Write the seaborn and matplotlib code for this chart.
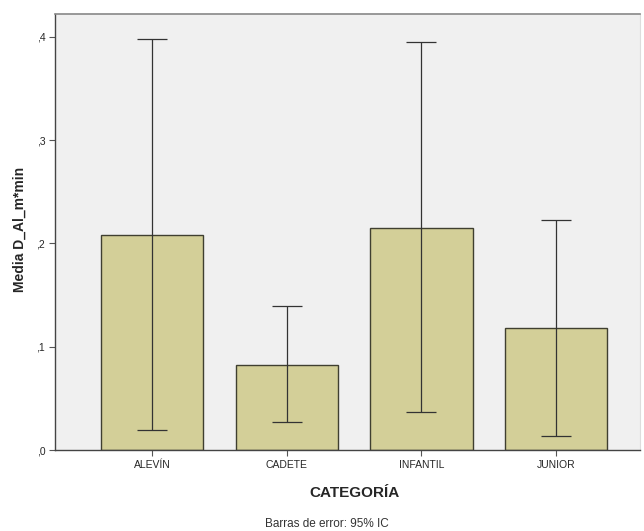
import seaborn as sns
import numpy as np
import matplotlib.pyplot as plt

categorias = ['ALEVÍN', 'CADETE', 'INFANTIL', 'JUNIOR']
medias = [0.208, 0.082, 0.215, 0.118]
ic_bajo = [0.019, 0.027, 0.037, 0.014]
ic_alto = [0.398, 0.139, 0.395, 0.223]
yticks = [0.0, 0.1, 0.2, 0.3, 0.4]
ytick_labels = [',0', ',1', ',2', ',3', ',4']

sns.set_style('white')
plt.rcParams['font.family'] = ['Liberation Sans', 'DejaVu Sans']

fig = plt.figure(figsize=(6.44, 5.31), dpi=100)
ax = fig.add_axes([0.0854, 0.1525, 0.908, 0.821])
ax.set_facecolor('#f0f0f0')

sns.barplot(x=categorias, y=medias, color='#d3cf98', saturation=1,
            edgecolor='#3f3f30', linewidth=1.0, width=0.76, ax=ax)

pos = np.arange(len(categorias))
med = np.array(medias)
err = [med - np.array(ic_bajo), np.array(ic_alto) - med]
ax.errorbar(pos, med, yerr=err, fmt='none', ecolor='#333333',
            elinewidth=0.9, capsize=11, capthick=0.9)

ax.set_xlim(-0.72, 3.62)
ax.set_ylim(0, 0.422)
ax.set_yticks(yticks)
ax.set_yticklabels(ytick_labels, fontsize=7.5)
ax.tick_params(axis='x', labelsize=7.5, length=4, width=0.8, color='#555555', pad=3)
ax.tick_params(axis='y', length=4, width=0.8, color='#555555', pad=3, left=True)
ax.tick_params(axis='x', bottom=True)

for s in ['left', 'bottom']:
    ax.spines[s].set_color('#444444')
    ax.spines[s].set_linewidth(1.0)
ax.spines['top'].set_color('#888888')
ax.spines['top'].set_linewidth(1.2)
ax.spines['right'].set_color('#dddddd')
ax.spines['right'].set_linewidth(0.8)

ax.set_ylabel('Media D_Al_m*min', fontsize=10, fontweight='bold')
ax.yaxis.set_label_coords(-0.048, 0.505)
ax.set_xlabel('CATEGORÍA', fontsize=11, fontweight='bold')
ax.xaxis.set_label_coords(0.513, -0.083)

fig.text(0.508, 0.013, 'Barras de error: 95% IC', ha='center', va='center',
         fontsize=8.5, color='#333333')

fig.savefig('out.png', dpi=100)
